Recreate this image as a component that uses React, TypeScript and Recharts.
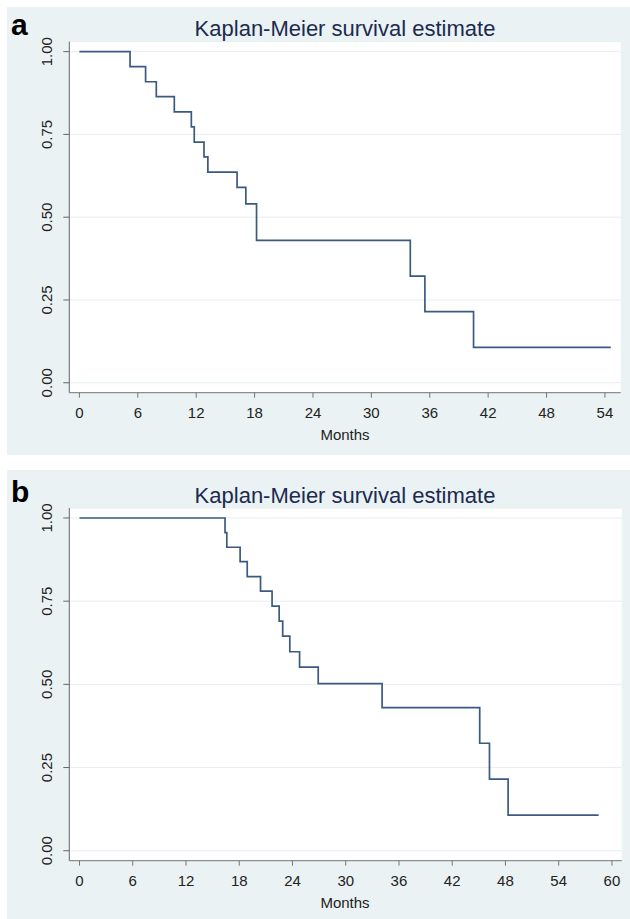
import { LineChart, Line, XAxis, YAxis, CartesianGrid } from "recharts";

// panel a: months and survival
const monthsA = [0, 5.2, 6.8, 7.9, 9.75, 11.5, 11.8, 12.8, 13.2, 16.2, 17.1, 18.2, 34.0, 35.5, 40.5, 54.6];
const survA = [1, 0.955, 0.909, 0.864, 0.818, 0.773, 0.727, 0.682, 0.636, 0.59, 0.54, 0.43, 0.322, 0.215, 0.107, 0.107];

// panel b
const monthsB = [0, 16.4, 16.6, 18.1, 18.9, 20.4, 21.7, 22.5, 22.9, 23.7, 24.8, 26.9, 34.1, 45.1, 46.2, 48.3, 58.5];
const survB = [1, 0.956, 0.912, 0.869, 0.824, 0.78, 0.735, 0.69, 0.645, 0.598, 0.552, 0.502, 0.43, 0.323, 0.215, 0.107, 0.107];

const ticksA = [0, 6, 12, 18, 24, 30, 36, 42, 48, 54];
const ticksB = [0, 6, 12, 18, 24, 30, 36, 42, 48, 54, 60];
const yTicks = [0, 0.25, 0.5, 0.75, 1];

const TITLE = "Kaplan-Meier survival estimate";
const FONT = "'Liberation Sans', Arial, sans-serif";
const BG = "#eaf2f3";
const W = 623;

const YTick = (props: any) => {
  const { y, payload } = props;
  return (
    <text x={45} y={y} transform={`rotate(-90 45 ${y})`} textAnchor="middle" fontSize={15} fill="#222" fontFamily={FONT}>
      {Number(payload.value).toFixed(2)}
    </text>
  );
};

interface PanelProps {
  letter: string;
  top: number;
  height: number;
  months: number[];
  surv: number[];
  xTicks: number[];
  xDomain: [number, number];
  plotTop: number;
  plotBottom: number;
  plotRight: number;
  titleY: number;
  letterY: number;
  labelY: number;
}

function Panel({ letter, top, height, months, surv, xTicks, xDomain, plotTop, plotBottom, plotRight, titleY, letterY, labelY }: PanelProps) {
  const data = months.map((t, i) => ({ t, s: surv[i] }));
  const plotLeft = 62.3;
  const xAxisH = 30;
  return (
    <div style={{ position: "absolute", left: 7, top, width: W, height, background: BG }}>
      <LineChart
        width={W}
        height={height}
        data={data}
        margin={{ top: plotTop, right: W - plotRight, bottom: height - plotBottom - xAxisH, left: 0 }}
      >
        <CartesianGrid vertical={false} fill="#ffffff" stroke="#e6eef1" />
        <XAxis
          type="number"
          dataKey="t"
          domain={xDomain}
          ticks={xTicks}
          allowDataOverflow
          height={xAxisH}
          tickSize={5}
          tickMargin={10}
          axisLine={{ stroke: "#777" }}
          tickLine={{ stroke: "#777" }}
          tick={{ fontSize: 15, fill: "#222", fontFamily: FONT }}
        />
        <YAxis
          type="number"
          domain={[-0.03, 1.03]}
          ticks={yTicks}
          allowDataOverflow
          width={plotLeft}
          tickSize={6}
          axisLine={{ stroke: "#666" }}
          tickLine={{ stroke: "#666" }}
          tick={<YTick />}
        />
        <Line type="stepAfter" dataKey="s" stroke="#3b5a82" strokeWidth={1.7} dot={false} isAnimationActive={false} />
      </LineChart>
      <svg width={W} height={height} style={{ position: "absolute", left: 0, top: 0, pointerEvents: "none" }}>
        <text x={4} y={letterY} fontSize={30} fontWeight="bold" fill="#000" fontFamily={FONT}>{letter}</text>
        <text x={338} y={titleY} textAnchor="middle" fontSize={22} fill="#1c2a50" fontFamily={FONT}>{TITLE}</text>
        <text x={338} y={labelY} textAnchor="middle" fontSize={15} fill="#222" fontFamily={FONT}>Months</text>
      </svg>
    </div>
  );
}

export default function App() {
  return (
    <div style={{ position: "absolute", left: 0, top: 0, width: 630, height: 919, background: "#fff" }}>
      <Panel
        letter="a"
        top={7}
        height={448}
        months={monthsA}
        surv={survA}
        xTicks={ticksA}
        xDomain={[-1.04, 55.62]}
        plotTop={34.7}
        plotBottom={385.7}
        plotRight={613.7}
        titleY={29}
        letterY={28}
        labelY={433}
      />
      <Panel
        letter="b"
        top={470}
        height={449}
        months={monthsB}
        surv={survB}
        xTicks={ticksB}
        xDomain={[-1.15, 61.1]}
        plotTop={38}
        plotBottom={390.7}
        plotRight={614.7}
        titleY={33}
        letterY={32}
        labelY={438}
      />
    </div>
  );
}
